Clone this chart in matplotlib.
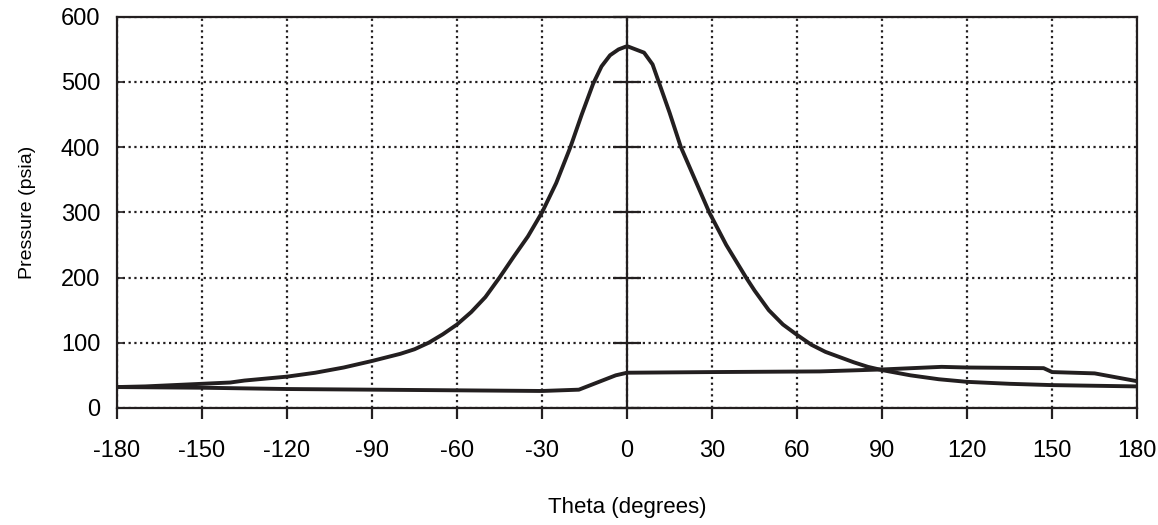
import numpy as np
import matplotlib
matplotlib.use("Agg")
import matplotlib.pyplot as plt

plt.rcParams['font.family'] = ['Liberation Sans', 'DejaVu Sans']

# ------------------------------------------------------------------
# data
# ------------------------------------------------------------------
theta_peak = [-180, -170, -165, -150, -140, -135, -120, -110, -105, -100,
              -90, -80, -75, -70, -65, -60, -55, -50, -45, -40, -35, -30,
              -25, -20, -16, -12, -9, -6, -3, 0, 3, 6, 9, 12, 15, 19, 24,
              29, 35, 42, 45, 50, 55, 60, 65, 70, 75, 80, 85, 90, 100, 105,
              110, 120, 135, 150, 165, 180]
p_peak = [32, 33, 34, 37, 39, 42, 48, 54, 58, 62,
          72, 83, 90, 100, 113, 128, 147, 170, 200, 232, 263, 300,
          345, 400, 450, 497, 524, 541, 550, 555, 550, 545, 527, 490, 453, 400, 350,
          300, 250, 200, 180, 150, 128, 112, 97, 86, 78, 70, 63, 58, 50, 47,
          44, 40, 37, 35, 34, 33]

theta_low = [-180, -150, -120, -90, -60, -30, -17, -4, 0, 30, 68, 90,
             111, 120, 147, 150, 165, 180]
p_low = [32, 31, 29, 28, 27, 26, 28, 50, 54, 55, 56, 59,
         63, 62, 61, 55, 53, 41]

xticks = np.arange(-180, 181, 30)
yticks = np.arange(0, 601, 100)

ink = '#231f20'

# ------------------------------------------------------------------
# figure
# ------------------------------------------------------------------
fig = plt.figure(figsize=(11.58, 5.25), dpi=100)
ax = fig.add_axes([0.101, 0.223, 0.881, 0.745])

ax.plot(theta_peak, p_peak, color=ink, lw=2.8, solid_joinstyle='round')
ax.plot(theta_low, p_low, color=ink, lw=2.8, solid_joinstyle='round')

ax.set_xlim(-180, 180)
ax.set_ylim(0, 600)
ax.set_xticks(xticks)
ax.set_yticks(yticks)
ax.set_xticklabels([str(t) for t in xticks], fontsize=17)
ax.set_yticklabels([str(t) for t in yticks], fontsize=17)

ax.grid(True, color=ink, linestyle=(0, (1, 1.6)), linewidth=1.6)
ax.set_axisbelow(True)

for s in ax.spines.values():
    s.set_linewidth(1.6)
    s.set_color(ink)

ax.tick_params(axis='x', direction='out', length=8, width=1.6, pad=15,
               color=ink)
ax.tick_params(axis='y', direction='in', length=4, width=1.2, pad=12,
               color=ink)

# vertical axis through theta = 0 with crossing ticks
zero = ax.twinx()
zero.set_ylim(0, 600)
zero.set_yticks(yticks)
zero.spines['right'].set_position(('data', 0))
zero.spines['right'].set_linewidth(1.6)
zero.spines['right'].set_color(ink)
for side in ['left', 'top', 'bottom']:
    zero.spines[side].set_visible(False)
zero.tick_params(axis='y', direction='inout', length=20, width=1.6,
                 labelright=False, color=ink)

ax.set_xlabel('Theta (degrees)', fontsize=16, labelpad=25)
ax.set_ylabel('Pressure (psia)', fontsize=14, labelpad=18)

plt.savefig('out.png', dpi=100)
